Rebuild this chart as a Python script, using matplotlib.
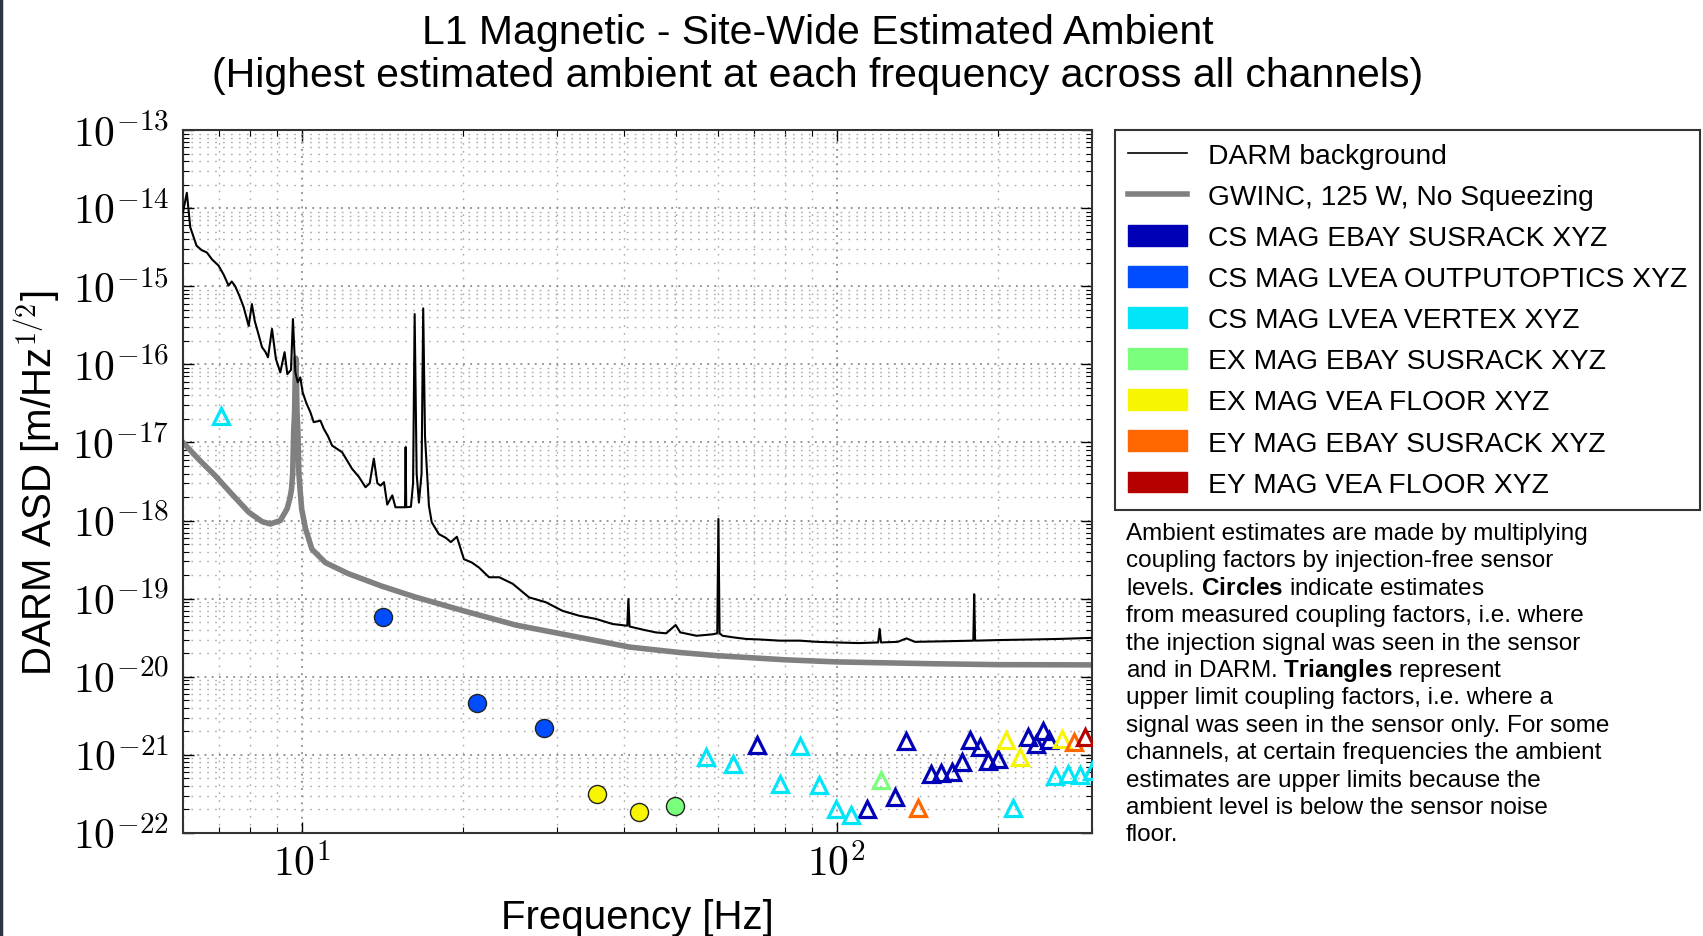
import numpy as np
import matplotlib
matplotlib.use("Agg")
import matplotlib.pyplot as plt
from matplotlib.patches import Patch
from matplotlib.lines import Line2D
from matplotlib.ticker import LogLocator, FuncFormatter, NullFormatter

plt.rcParams['font.family'] = ['Liberation Sans', 'DejaVu Sans']
plt.rcParams['mathtext.fontset'] = 'cm'
plt.rcParams['mathtext.rm'] = 'Liberation Sans'
plt.rcParams['mathtext.bf'] = 'Liberation Sans:bold'

# DARM background
darm_freq = [6.00, 6.10, 6.19, 6.36, 6.50, 6.65, 6.80, 6.99, 7.15, 7.30, 7.40, 7.51,
             7.65, 7.79, 7.96, 8.07, 8.17, 8.28, 8.43, 8.55, 8.65, 8.80, 8.95, 9.12,
             9.29, 9.40, 9.55, 9.63, 9.73, 9.83, 9.94, 10.04, 10.2, 10.38, 10.53,
             10.84, 11.0, 11.2, 11.4, 11.9, 12.42, 12.8, 13.16, 13.40, 13.64, 13.85,
             14.04, 14.25, 14.45, 14.77, 14.97, 15.5, 15.60, 15.64, 15.68, 16.0,
             16.15, 16.26, 16.40, 16.56, 16.75, 16.87, 17.0, 17.29, 17.5, 18.05,
             18.6, 19.0, 19.5, 20.1, 20.8, 21.45, 22.4, 23.4, 24.8, 26.6, 28.6,
             30.7, 33.0, 35.5, 38.1, 40.6, 40.8, 41.0, 43.5, 45.9, 48.0, 50.0, 51.0,
             54.7, 58.7, 59.8, 60.1, 60.4, 61.2, 64.0, 67.7, 72.0, 78.2, 85.3, 92.0,
             100.0, 110.0, 119.5, 120.3, 121.0, 130.0, 135.0, 140.0, 160.0, 180.0,
             180.7, 181.4, 200.0, 230.0, 260.0, 300.0]
darm_asd = [8.9e-15, 1.57e-14, 5.7e-15, 3.3e-15, 2.9e-15, 2.7e-15, 2.2e-15, 1.84e-15,
            1.4e-15, 1.02e-15, 1.15e-15, 1.0e-15, 7.5e-16, 5.4e-16, 3.1e-16, 5.9e-16,
            3.6e-16, 2.6e-16, 1.66e-16, 1.45e-16, 1.23e-16, 2.84e-16, 1.17e-16, 7.9e-17,
            1.43e-16, 7.5e-17, 8.5e-17, 3.8e-16, 7.9e-17, 5.9e-17, 6.8e-17, 4.4e-17,
            3.2e-17, 2.44e-17, 1.82e-17, 1.9e-17, 1.49e-17, 1.2e-17, 9.1e-18, 7.5e-18,
            4.6e-18, 3.6e-18, 2.67e-18, 3.0e-18, 6.2e-18, 3.0e-18, 2.8e-18, 3.1e-18,
            1.6e-18, 2.1e-18, 1.48e-18, 1.48e-18, 1.48e-18, 8.7e-18, 1.48e-18, 1.5e-18,
            3.0e-18, 4.4e-16, 4.0e-18, 1.7e-18, 4.0e-18, 5.2e-16, 1.2e-17, 1.55e-18,
            9.5e-19, 6.7e-19, 6.0e-19, 5.3e-19, 6.2e-19, 3.2e-19, 2.9e-19, 2.5e-19,
            1.88e-19, 1.88e-19, 1.55e-19, 1.04e-19, 9.0e-20, 7.0e-20, 6.05e-20, 5.5e-20,
            4.74e-20, 4.5e-20, 9.9e-20, 4.4e-20, 4.0e-20, 3.7e-20, 3.6e-20, 4.6e-20,
            3.7e-20, 3.35e-20, 3.5e-20, 3.6e-20, 1.05e-18, 3.6e-20, 3.35e-20, 3.2e-20,
            3.05e-20, 3.0e-20, 2.9e-20, 2.9e-20, 2.8e-20, 2.75e-20, 2.7e-20, 2.75e-20,
            4.1e-20, 2.75e-20, 2.8e-20, 3.1e-20, 2.8e-20, 2.85e-20, 2.9e-20, 1.14e-19,
            2.9e-20, 2.95e-20, 3.0e-20, 3.05e-20, 3.15e-20]

# GWINC, 125 W, no squeezing
gwinc_freq = [6.0, 6.41, 6.89, 7.40, 7.96, 8.43, 8.74, 9.12, 9.39, 9.5, 9.57, 9.62,
              9.66, 9.70, 9.72, 9.75, 9.78, 9.80, 9.84, 9.88, 9.93, 10.0, 10.16,
              10.45, 11.07, 12.2, 14.1, 16.3, 20.2, 23.4, 25.1, 33.0, 41.0, 50.7,
              60.0, 80.0, 100.0, 150.0, 200.0, 300.0]
gwinc_asd = [1.0e-17, 6.15e-18, 3.76e-18, 2.19e-18, 1.28e-18, 9.7e-19, 9.05e-19, 1.0e-18,
             1.41e-18, 1.9e-18, 2.5e-18, 4.0e-18, 1.35e-17, 2.5e-17, 6.0e-17, 1.2e-16,
             6.0e-17, 2.5e-17, 1.35e-17, 4.0e-18, 2.5e-18, 1.4e-18, 8.0e-19, 4.3e-19,
             2.9e-19, 2.1e-19, 1.45e-19, 1.05e-19, 6.9e-20, 5.25e-20, 4.6e-20, 3.2e-20,
             2.4e-20, 2.05e-20, 1.86e-20, 1.65e-20, 1.55e-20, 1.47e-20, 1.43e-20, 1.42e-20]

channels = ["CS MAG EBAY SUSRACK XYZ", "CS MAG LVEA OUTPUTOPTICS XYZ",
            "CS MAG LVEA VERTEX XYZ", "EX MAG EBAY SUSRACK XYZ",
            "EX MAG VEA FLOOR XYZ", "EY MAG EBAY SUSRACK XYZ", "EY MAG VEA FLOOR XYZ"]

# measured coupling (circles)
circ_freq = [[], [14.2, 21.3, 28.4], [], [49.8], [35.6, 42.7], [], []]
circ_asd = [[], [5.8e-20, 4.6e-21, 2.23e-21], [], [2.24e-22], [3.16e-22, 1.84e-22], [], []]

# upper limits (triangles)
tri_freq = [[71.0, 114.0, 128.5, 135.0, 150.0, 156.6, 164.4, 171.7, 177.8, 185.3, 192.0,
             200.5, 227.6, 235.5, 242.7, 248.8],
            [],
            [7.07, 57.0, 64.1, 78.4, 85.5, 92.5, 99.9, 106.5, 213.8, 255.9, 271.0, 285.0, 300.0],
            [121.2],
            [207.3, 220.0, 263.6],
            [142.0, 278.2],
            [291.3]]
tri_asd = [[1.35e-21, 2.03e-22, 2.86e-22, 1.52e-21, 5.7e-22, 5.86e-22, 6.1e-22, 8.2e-22,
            1.57e-21, 1.25e-21, 8.4e-22, 8.9e-22, 1.68e-21, 1.38e-21, 2.04e-21, 1.57e-21],
           [],
           [2.2e-17, 9.3e-22, 7.6e-22, 4.24e-22, 1.31e-21, 4.1e-22, 2.03e-22, 1.70e-22,
            2.07e-22, 5.3e-22, 5.7e-22, 5.53e-22, 6.3e-22],
           [4.78e-22],
           [1.57e-21, 9.3e-22, 1.6e-21],
           [2.07e-22, 1.48e-21],
           [1.68e-21]]

colors = plt.cm.jet(np.linspace(0.05, 0.95, len(channels)))

note_lines = [
    "Ambient estimates are made by multiplying",
    "coupling factors by injection-free sensor",
    r"levels. $\mathbf{Circles}$ indicate estimates",
    "from measured coupling factors, i.e. where",
    "the injection signal was seen in the sensor",
    r"and in DARM. $\mathbf{Triangles}$ represent",
    "upper limit coupling factors, i.e. where a",
    "signal was seen in the sensor only. For some",
    "channels, at certain frequencies the ambient",
    "estimates are upper limits because the",
    "ambient level is below the sensor noise",
    "floor.",
]

W, H = 1703, 937
fig = plt.figure(figsize=(W / 100, H / 100), dpi=100)
ax = fig.add_axes([183 / W, 1 - 834 / H, (1092 - 183) / W, (834 - 131) / H])

ax.loglog(gwinc_freq, gwinc_asd, color='#808080', lw=4, zorder=2)
ax.loglog(darm_freq, darm_asd, color='k', lw=1.5, zorder=3)

for i, c in enumerate(colors):
    if circ_freq[i]:
        ax.plot(circ_freq[i], circ_asd[i], 'o', ms=13, mfc=c, mec='#222222', mew=1.0, zorder=4)
    if tri_freq[i]:
        ax.plot(tri_freq[i], tri_asd[i], '^', ms=11, mfc='none', mec=c, mew=2.3, zorder=4)

ax.set_xlim(6, 300)
ax.set_ylim(1e-22, 1e-13)
ax.yaxis.set_major_locator(LogLocator(base=10, numticks=20))
ax.yaxis.set_minor_locator(LogLocator(base=10, subs=np.arange(2, 10), numticks=20))
fmt = FuncFormatter(lambda v, p: r'$10^{%d}$' % int(round(np.log10(v))))
ax.xaxis.set_major_formatter(fmt)
ax.yaxis.set_major_formatter(fmt)
ax.xaxis.set_minor_formatter(NullFormatter())
ax.yaxis.set_minor_formatter(NullFormatter())
ax.tick_params(which='both', direction='in', top=True, right=True, labelsize=30)
ax.tick_params(which='major', length=8, width=1)
ax.tick_params(which='minor', length=4, width=0.8)
ax.tick_params(axis='y', pad=10)
ax.tick_params(axis='x', pad=8)
ax.grid(True, which='major', linestyle=(0, (1.2, 3.5)), color='#777777', lw=1.1)
ax.grid(True, which='minor', linestyle=(0, (1.2, 4.5)), color='#aaaaaa', lw=1.0)
for s in ax.spines.values():
    s.set_linewidth(1.5)
    s.set_color('#333333')

fig.text(38 / W, 1 - 483 / H, r'DARM ASD [m/Hz$^{1/2}$]', rotation=90,
         ha='center', va='center', fontsize=29)
fig.text(637 / W, 1 - 929 / H, 'Frequency [Hz]', ha='center', va='baseline', fontsize=29)
fig.text(818 / W, 1 - 43.5 / H, 'L1 Magnetic - Site-Wide Estimated Ambient',
         ha='center', va='baseline', fontsize=29.5)
fig.text(818 / W, 1 - 87 / H,
         '(Highest estimated ambient at each frequency across all channels)',
         ha='center', va='baseline', fontsize=29.5)

handles = [Line2D([], [], color='k', lw=1.2),
           Line2D([], [], color='#808080', lw=4)]
handles += [Patch(facecolor=c, edgecolor=c) for c in colors]
labels = ['DARM background', 'GWINC, 125 W, No Squeezing'] + channels
leg = fig.legend(handles, labels, loc='upper left', bbox_to_anchor=(1115 / W, 1 - 131 / H),
                 bbox_transform=fig.transFigure, borderaxespad=0, fontsize=20.3,
                 handlelength=2.1, handleheight=0.75, handletextpad=0.75,
                 labelspacing=0.53, borderpad=0.45, fancybox=False, framealpha=1)
leg.get_frame().set_edgecolor('#333333')
leg.get_frame().set_linewidth(1.5)

for i, line in enumerate(note_lines):
    fig.text(1126 / W, 1 - (540 + 27.4 * i) / H, line, fontsize=17.5,
             va='baseline', ha='left', math_fontfamily='custom')

fig.add_artist(Line2D([0.0008, 0.0008], [0, 1], color='#2b3445', lw=2.5,
                      transform=fig.transFigure))

fig.savefig('out.png', dpi=100)
